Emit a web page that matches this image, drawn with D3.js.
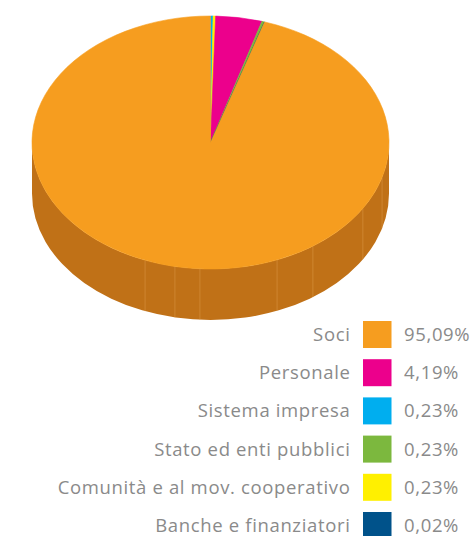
<!DOCTYPE html>
<html>
<head>
<meta charset="utf-8">
<script src="https://cdn.jsdelivr.net/npm/d3@7"></script>
<style>
  html, body { margin: 0; padding: 0; background: #ffffff; }
  svg { display: block; }
</style>
</head>
<body>
<svg id="chart" width="471" height="536"></svg>
<script>
// Distribution of value by stakeholder (percent)
const categories = [
  "Soci",
  "Personale",
  "Sistema impresa",
  "Stato ed enti pubblici",
  "Comunità e al mov. cooperativo",
  "Banche e finanziatori"
];
const values = [95.09, 4.19, 0.23, 0.23, 0.23, 0.02];
const valueLabels = ["95,09%", "4,19%", "0,23%", "0,23%", "0,23%", "0,02%"];
const colors = ["#f69d1f", "#ec008c", "#00aeef", "#7cb83e", "#fff000", "#00528a"];
const sideColors = ["#c07117", "#a8006a", "#0086b8", "#5e8c2e", "#c4b800", "#003a63"];
// clockwise sequence of slices around the pie, starting at 12 o'clock
const sliceOrder = [
  "Sistema impresa",
  "Comunità e al mov. cooperativo",
  "Personale",
  "Stato ed enti pubblici",
  "Banche e finanziatori",
  "Soci"
];

const svg = d3.select("#chart");

// pie geometry (tilted disc)
const cx = 210.5, cy = 142.5, rx = 178.5, ry = 126.5, depth = 51;

const data = sliceOrder.map(name => {
  const i = categories.indexOf(name);
  return { name, value: values[i], color: colors[i], side: sideColors[i] };
});

const pie = d3.pie().sort(null).value(d => d.value).startAngle(0).endAngle(2 * Math.PI);
const arcs = pie(data);

const pt = (a, dy = 0) => [cx + rx * Math.sin(a), cy - ry * Math.cos(a) + dy];

// side wall (only the front half, angles between 90° and 270°, is visible)
const sideG = svg.append("g");
arcs.forEach(d => {
  const s0 = Math.max(d.startAngle, Math.PI / 2);
  const s1 = Math.min(d.endAngle, 3 * Math.PI / 2);
  if (s1 <= s0) return;
  const p0 = pt(s0), p1 = pt(s1), q1 = pt(s1, depth), q0 = pt(s0, depth);
  const large = (s1 - s0) > Math.PI ? 1 : 0;
  const path = `M${p0}A${rx},${ry} 0 ${large} 1 ${p1}L${q1}A${rx},${ry} 0 ${large} 0 ${q0}Z`;
  sideG.append("path").attr("d", path).attr("fill", d.data.side);
});

// faint seams on the side wall
const seamAngles = [106, 121.4, 145, 158.1, 183.4, 191.5, 201.5];
seamAngles.forEach(deg => {
  const a = deg * Math.PI / 180;
  const p = pt(a), q = pt(a, depth);
  sideG.append("line")
    .attr("x1", p[0]).attr("y1", p[1]).attr("x2", q[0]).attr("y2", q[1])
    .attr("stroke", "#e0a050").attr("stroke-opacity", 0.45).attr("stroke-width", 1);
});

// top face
const topG = svg.append("g");
arcs.forEach(d => {
  const p0 = pt(d.startAngle), p1 = pt(d.endAngle);
  const large = (d.endAngle - d.startAngle) > Math.PI ? 1 : 0;
  const path = `M${cx},${cy}L${p0}A${rx},${ry} 0 ${large} 1 ${p1}Z`;
  topG.append("path").attr("d", path).attr("fill", d.data.color)
    .attr("stroke", d.data.color).attr("stroke-width", 0.6);
});

// legend
const legend = svg.append("g")
  .attr("font-family", "'Open Sans', 'DejaVu Sans', sans-serif")
  .attr("font-size", 18.5)
  .attr("letter-spacing", 0.65)
  .attr("fill", "#8a8a8a");

const rowY = d3.scaleLinear().domain([0, 1]).range([334.5, 372.7]);

categories.forEach((name, i) => {
  const y = rowY(i);
  legend.append("text")
    .attr("x", 350.5).attr("y", y + 6.5)
    .attr("text-anchor", "end")
    .text(name);
  legend.append("rect")
    .attr("x", 363).attr("y", y - 13.5)
    .attr("width", 28.5).attr("height", 27)
    .attr("fill", colors[i]);
  legend.append("text")
    .attr("x", 404).attr("y", y + 6.5)
    .text(valueLabels[i]);
});
</script>
</body>
</html>
